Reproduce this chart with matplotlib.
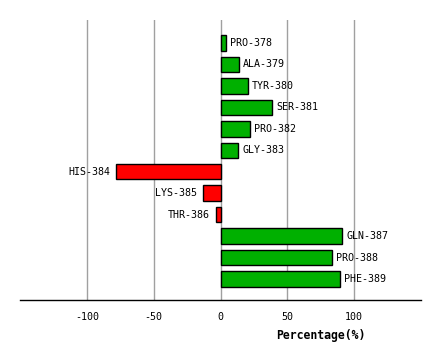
import numpy as np
import matplotlib.pyplot as plt

residues = ["PRO-378", "ALA-379", "TYR-380", "SER-381", "PRO-382", "GLY-383",
            "HIS-384", "LYS-385", "THR-386", "GLN-387", "PRO-388", "PHE-389"]
percent = [4.0, 13.8, 20.5, 38.5, 22.0, 13.0, -78.0, -12.8, -3.7, 91.0, 83.5, 89.5]
tick_vals = [-100, -50, 0, 50, 100]
tick_labels = ["-100", "-50", "0", "50", "100"]

mono = "DejaVu Sans Mono"

fig = plt.figure(figsize=(4.4, 3.6), dpi=100)
ax = fig.add_axes([20 / 440, 60 / 360, 401 / 440, 280 / 360])

y = np.arange(len(residues))
colors = ["#00b000" if v >= 0 else "#ff0000" for v in percent]
ax.barh(y, percent, height=0.72, color=colors, edgecolor="black", linewidth=1, zorder=3)

for yi, v, name in zip(y, percent, residues):
    if v >= 0:
        ax.annotate(name, (v, yi), xytext=(3, 0), textcoords="offset points",
                    ha="left", va="center", fontsize=7.2, family=mono)
    else:
        ax.annotate(name, (v, yi), xytext=(-4.5, 0), textcoords="offset points",
                    ha="right", va="center", fontsize=7.2, family=mono)

ax.set_xlim(-150, 150)
ax.set_ylim(11.98, -1.07)
ax.set_xticks(tick_vals)
ax.set_xticklabels(tick_labels, family=mono, fontsize=7.2)
ax.set_yticks([])
ax.tick_params(axis="x", length=0, pad=9)
ax.grid(axis="x", color="#a0a0a0", linewidth=1, zorder=0)
for s in ["top", "left", "right"]:
    ax.spines[s].set_visible(False)
ax.spines["bottom"].set_linewidth(1)

ax.set_xlabel("Percentage(%)", family=mono, fontweight="bold", fontsize=8.3)
ax.xaxis.set_label_coords(0.75, -0.125)
ax.xaxis.label.set_va("center")

fig.savefig("out.png", dpi=100)
